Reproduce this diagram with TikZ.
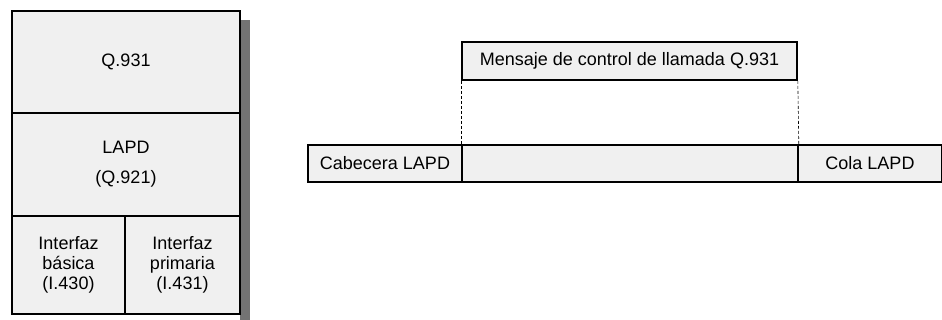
\documentclass[tikz,border=0pt]{standalone}
\usepackage{fontspec}
\setmainfont{Liberation Sans}
\begin{document}
\begin{tikzpicture}[x=1pt,y=-1pt,
    cell/.style={draw,line width=1.6pt,fill=black!6,inner sep=0pt,
      align=center,font=\fontsize{18}{20}\selectfont},
    guide/.style={densely dashed,line width=0.6pt}]
  \useasboundingbox (0,0) rectangle (942,320);
  % stack of protocols
  \fill[black!55] (240,20) rectangle (250,320);
  \node[cell,minimum width=228pt,minimum height=102pt] (Q931) at (126,62)
    {Q.931};
  \node[cell,minimum width=228pt,minimum height=103pt] (LAPD) at (126,164.5)
    {LAPD\\[10pt](Q.921)};
  \node[cell,minimum width=113pt,minimum height=98pt] (Basic) at (68.5,265)
    {Interfaz\\básica\\(I.430)};
  \node[cell,minimum width=115pt,minimum height=98pt] (Primary) at (182.5,265)
    {Interfaz\\primaria\\(I.431)};
  % frame
  \node[cell,minimum width=335pt,minimum height=38pt] (Msg) at (629.5,61)
    {Mensaje de control de llamada Q.931};
  \node[cell,minimum width=154pt,minimum height=37pt] (Head) at (385,163.5)
    {Cabecera LAPD};
  \node[cell,minimum width=336pt,minimum height=37pt] (Body) at (630,163.5) {};
  \node[cell,minimum width=144pt,minimum height=37pt] (Tail) at (870,163.5)
    {Cola LAPD};
  \draw[guide] (Msg.south west) -- (Body.north west);
  \draw[guide] (Msg.south east) -- (Body.north east);
\end{tikzpicture}
\end{document}
